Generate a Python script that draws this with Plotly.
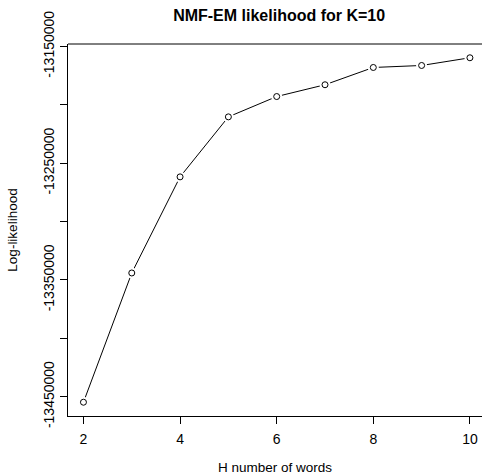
import plotly.graph_objects as go

h_words = [2, 3, 4, 5, 6, 7, 8, 9, 10]
log_lik = [-13454700, -13344000, -13261700, -13210300, -13192900,
           -13182800, -13168000, -13166300, -13159700]

y_tickvals = [-13450000, -13400000, -13350000, -13300000, -13250000, -13200000, -13150000]
y_ticktext = ["-13450000", "", "-13350000", "", "-13250000", "", "-13150000"]
x_tickvals = [2, 4, 6, 8, 10]

FONT = "Liberation Sans, Arial, sans-serif"

fig = go.Figure()
fig.add_trace(go.Scatter(x=h_words, y=log_lik, mode="lines",
                         line=dict(color="black", width=1), hoverinfo="skip"))
fig.add_trace(go.Scatter(x=h_words, y=log_lik, mode="markers",
                         marker=dict(symbol="circle", size=11, color="white",
                                     line=dict(width=0)), hoverinfo="skip"))
fig.add_trace(go.Scatter(x=h_words, y=log_lik, mode="markers",
                         marker=dict(symbol="circle-open", size=6, color="black",
                                     line=dict(width=1, color="black"))))

ymin, ymax = min(log_lik), max(log_lik)
pad = (ymax - ymin) * 0.04

fig.update_layout(
    width=482, height=475,
    margin=dict(l=68, r=0, t=44, b=59, autoexpand=False),
    paper_bgcolor="white", plot_bgcolor="white",
    showlegend=False,
    font=dict(family=FONT, size=14, color="black"),
    title=dict(text="<b>NMF-EM likelihood for K=10</b>", xref="paper", x=0.51,
               xanchor="center", y=1 - 15 / 475, yanchor="middle",
               font=dict(size=16, color="black", family=FONT)),
    xaxis=dict(range=[1.68, 10.25], tickvals=x_tickvals, showgrid=False, zeroline=False,
               showline=True, linecolor="black", linewidth=1, mirror=False,
               ticks="outside", ticklen=7, tickcolor="black", automargin=False,
               tickfont=dict(size=14), ticklabelstandoff=3,
               title=dict(text="H number of words", standoff=18, font=dict(size=13.5))),
    yaxis=dict(range=[ymin - pad, ymax + pad], tickvals=y_tickvals, ticktext=y_ticktext,
               tickangle=-90, showgrid=False, zeroline=False, automargin=False,
               showline=True, linecolor="black", linewidth=1,
               ticks="outside", ticklen=7, tickcolor="black",
               tickfont=dict(size=14),
               title=dict(text="Log-likelihood", standoff=20, font=dict(size=13.5))),
    shapes=[dict(type="line", xref="paper", yref="paper", x0=0, x1=1, y0=1, y1=1,
                 line=dict(color="black", width=1))],
)

fig.write_html("out.html", config={"displayModeBar": False},
               post_script="document.body.style.margin='0';document.body.style.overflow='hidden';")
